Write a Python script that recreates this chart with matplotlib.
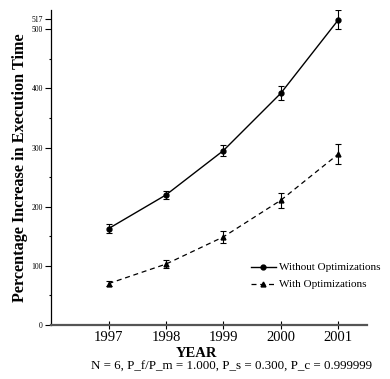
import matplotlib
matplotlib.use("Agg")
import matplotlib.pyplot as plt

plt.rcParams['font.family'] = ['Liberation Serif', 'DejaVu Serif']

YEARS = [1997, 1998, 1999, 2000, 2001]
WITHOUT = [163, 220, 295, 392, 516]
WITHOUT_ERR = [7, 7, 9, 12, 16]
WITH = [70, 103, 149, 211, 289]
WITH_ERR = [4, 7, 10, 13, 17]
YTICKS = [0, 100, 200, 300, 400, 500, 517]
MINOR_YTICKS = [50, 150, 250, 350, 450]

fig = plt.figure(figsize=(3.9, 3.79), dpi=100)
ax = fig.add_axes([0.131, 0.1425, 0.81, 0.8315])

# error bars first, then the lines that go in the legend
ax.errorbar(YEARS, WITHOUT, yerr=WITHOUT_ERR, fmt="none", ecolor="black",
            elinewidth=0.8, capsize=2, capthick=0.8)
ax.errorbar(YEARS, WITH, yerr=WITH_ERR, fmt="none", ecolor="black",
            elinewidth=0.8, capsize=2, capthick=0.8)
ax.plot(YEARS, WITHOUT, color="black", linestyle="-", marker="o",
        markersize=3.5, linewidth=1, label="Without Optimizations")
ax.plot(YEARS, WITH, color="black", linestyle="--", dashes=(4, 3), marker="^",
        markersize=3.5, linewidth=0.9, label="With Optimizations")

ax.set_xlim(1996.0, 2001.5)
ax.set_ylim(0, 533)
ax.set_xticks(YEARS)
ax.set_xticklabels([str(y) for y in YEARS], fontsize=10.5)
ax.set_yticks(YTICKS)
ax.set_yticklabels([str(v) for v in YTICKS], fontsize=5.5)
ax.set_yticks(MINOR_YTICKS, minor=True)
ax.tick_params(axis="y", which="major", direction="out", length=4, width=0.8, pad=2)
ax.tick_params(axis="y", which="minor", direction="out", length=1.5, width=0.8)
ax.tick_params(axis="x", direction="inout", length=6, width=0.8, pad=1)

ax.spines["top"].set_visible(False)
ax.spines["right"].set_visible(False)
ax.spines["left"].set_linewidth(0.9)
ax.spines["bottom"].set_linewidth(1.6)
ax.spines["bottom"].set_color("#555555")

fig.text(0.503, 0.068, "YEAR", fontsize=10.5, fontweight="bold", ha="center", va="center")
fig.text(0.593, 0.032, "N = 6, P_f/P_m = 1.000, P_s = 0.300, P_c = 0.999999",
         fontsize=9.4, ha="center", va="center")
ax.set_ylabel("Percentage Increase in Execution Time", fontsize=11.7,
              fontweight="bold", labelpad=2.5)

ax.legend(loc="lower right", bbox_to_anchor=(1.06, 0.095), fontsize=8,
          frameon=False, handlelength=2.2, handletextpad=0.3,
          labelspacing=0.65, borderpad=0)

fig.savefig("out.png", dpi=100)
